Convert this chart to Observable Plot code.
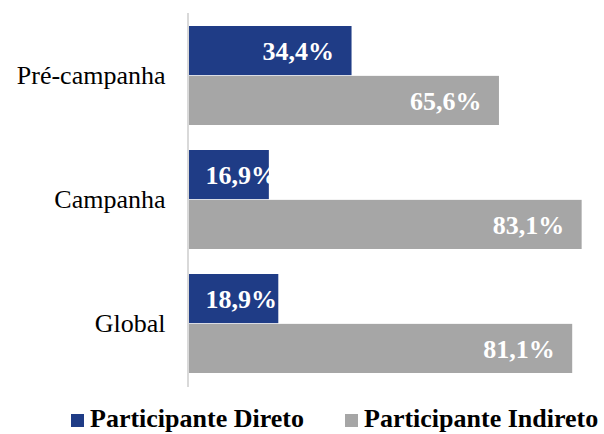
<!DOCTYPE html>
<html>
<head>
<meta charset="utf-8">
<script src="https://cdn.jsdelivr.net/npm/d3@7"></script>
<script src="https://cdn.jsdelivr.net/npm/@observablehq/plot@0.6"></script>
<style>
  body { margin: 0; background: #fff; }
  #wrap { position: relative; width: 604px; height: 434px; overflow: hidden; font-family: "Liberation Serif", "Times New Roman", Times, Tinos, "Nimbus Roman", "Nimbus Roman No9 L", FreeSerif, "Noto Serif", "DejaVu Serif", serif; }
  #legend { position: absolute; left: 0; top: 404px; width: 604px; height: 30px; font-weight: bold; font-size: 26px; line-height: 30px; color: #000; white-space: nowrap; }
  .item { position: absolute; top: 0; }
  .sw { display: inline-block; width: 13px; height: 13px; margin-right: 6px; vertical-align: 0px; }
</style>
</head>
<body>
<div id="wrap"><div id="chart"></div><div id="legend"></div></div>
<script>
const categories = ["Pré-campanha", "Campanha", "Global"];
const seriesNames = ["Participante Direto", "Participante Indireto"];
const direto = [34.4, 16.9, 18.9];
const indireto = [65.6, 83.1, 81.1];
const colors = ["#1F3C86", "#A6A6A6"];
const serifFont = "'Liberation Serif', 'Times New Roman', Times, Tinos, 'Nimbus Roman', 'Nimbus Roman No9 L', FreeSerif, 'Noto Serif', 'DejaVu Serif', serif";

const fmt = v => v.toFixed(1).replace(".", ",") + "%";

const dataDireto = categories.map((c, i) => ({category: c, value: direto[i], series: seriesNames[0]}));
const dataIndireto = categories.map((c, i) => ({category: c, value: indireto[i], series: seriesNames[1]}));

const plotTop = 13, plotBottom = 387, pInner = 0.2, pOuter = 0.1;
const step = (plotBottom - plotTop) / (categories.length - pInner + 2 * pOuter);
const bw = step * (1 - pInner);
const half = bw / 2;

const chart = Plot.plot({
  width: 604,
  height: 400,
  marginLeft: 188,
  marginRight: 0,
  marginTop: plotTop,
  marginBottom: 400 - plotBottom,
  style: {fontFamily: serifFont, background: "#fff"},
  x: {domain: [0, 100], range: [189, 661.5], axis: null},
  y: {domain: categories, paddingInner: pInner, paddingOuter: pOuter, label: null},
  marks: [
    Plot.barX(dataDireto, {y: "category", x: "value", fill: colors[0], insetBottom: half, insetTop: 0}),
    Plot.barX(dataIndireto, {y: "category", x: "value", fill: colors[1], insetTop: half, insetBottom: 0}),
    Plot.ruleX([0], {stroke: "#D9D9D9", strokeWidth: 2, dx: -1.5}),
    Plot.text(dataDireto.filter(d => d.value >= 30), {y: "category", x: "value", text: d => fmt(d.value), dy: -half / 2 + 1, dx: -18, textAnchor: "end", fill: "#fff", fontWeight: "bold", fontSize: 26, fontFamily: serifFont}),
    Plot.text(dataDireto.filter(d => d.value < 30), {y: "category", x: 0, text: d => fmt(d.value), dy: -half / 2 + 1, dx: 16, textAnchor: "start", fill: "#fff", fontWeight: "bold", fontSize: 26, fontFamily: serifFont}),
    Plot.text(dataIndireto, {y: "category", x: "value", text: d => fmt(d.value), dy: half / 2 + 1, dx: -18, textAnchor: "end", fill: "#fff", fontWeight: "bold", fontSize: 26, fontFamily: serifFont}),
    Plot.axisY({tickSize: 0, tickPadding: 23, fontSize: 26, fill: "#000", label: null, fontFamily: serifFont})
  ]
});
document.getElementById("chart").appendChild(chart);

const legend = document.getElementById("legend");
const lefts = [71, 345];
seriesNames.forEach((name, i) => {
  const item = document.createElement("span");
  item.className = "item";
  item.style.left = lefts[i] + "px";
  const sw = document.createElement("span");
  sw.className = "sw";
  sw.style.background = colors[i];
  item.appendChild(sw);
  item.appendChild(document.createTextNode(name));
  legend.appendChild(item);
});
</script>
</body>
</html>
